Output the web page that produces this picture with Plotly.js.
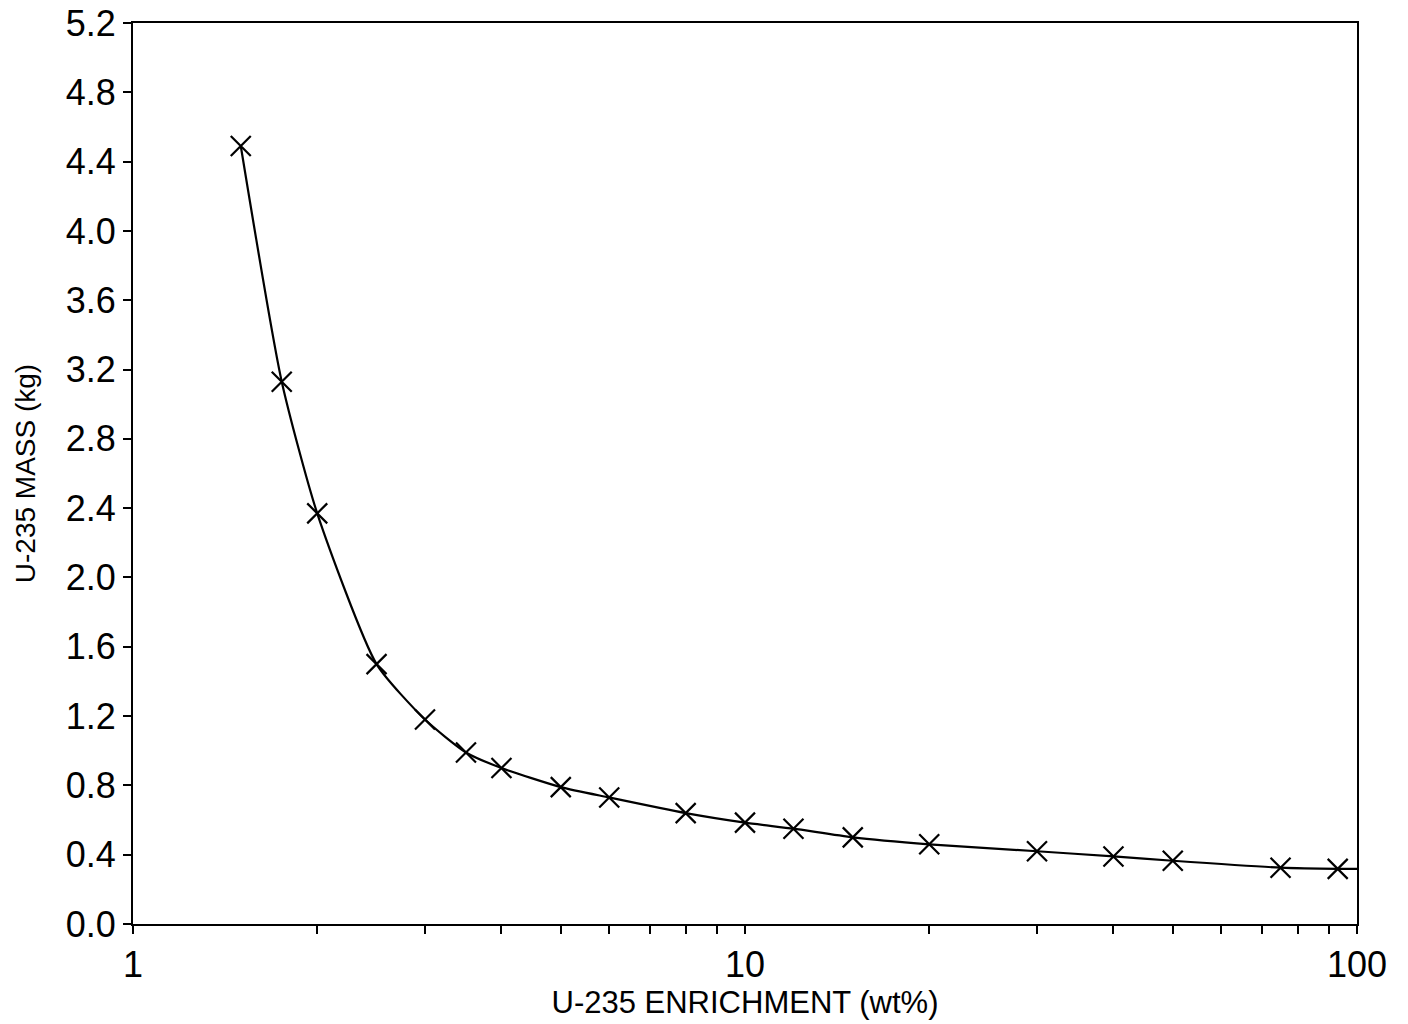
<!DOCTYPE html>
<html>
<head>
<meta charset="utf-8">
<script src="https://cdn.plot.ly/plotly-3.0.1.min.js"></script>
<style>
  html, body { margin: 0; padding: 0; background: #fff; }
  #chart { width: 1408px; height: 1024px; }
</style>
</head>
<body>
<div id="chart"></div>
<script>
// Data
const enrichment = [1.5, 1.75, 2.0, 2.5, 3.0, 3.5, 4.0, 5.0, 6.0, 8.0, 10, 12, 15, 20, 30, 40, 50, 75, 93];
const massKg     = [4.49, 3.13, 2.37, 1.50, 1.18, 0.99, 0.90, 0.79, 0.73, 0.64, 0.585, 0.55, 0.50, 0.46, 0.42, 0.39, 0.365, 0.325, 0.318];
// The fitted curve continues to the right edge of the frame
const curveEndX = [100];
const curveEndY = [0.318];

const yTickVals = [0, 0.4, 0.8, 1.2, 1.6, 2.0, 2.4, 2.8, 3.2, 3.6, 4.0, 4.4, 4.8, 5.2];
const xTickVals = [1, 10, 100];
const xTickText = ['1', '10', '100'];
const xMinorTicks = [2, 3, 4, 5, 6, 7, 8, 9, 20, 30, 40, 50, 60, 70, 80, 90];

const curveX = enrichment.concat(curveEndX);
const curveY = massKg.concat(curveEndY);

const font = 'Liberation Sans, Arial, Helvetica, sans-serif';

const traces = [
  {
    x: curveX, y: curveY,
    type: 'scatter', mode: 'lines',
    line: { color: '#000', width: 2.2, shape: 'spline', smoothing: 0.6 },
    hoverinfo: 'skip', showlegend: false
  },
  {
    x: enrichment, y: massKg,
    type: 'scatter', mode: 'markers',
    marker: { symbol: 'x-thin-open', size: 20, color: '#000', line: { color: '#000', width: 2.2 } },
    showlegend: false
  }
];

const layout = {
  width: 1408, height: 1024,
  paper_bgcolor: '#fff', plot_bgcolor: '#fff',
  margin: { l: 133, r: 51, t: 23, b: 100 },
  font: { family: font, color: '#000' },
  showlegend: false,
  xaxis: {
    type: 'log', range: [0, 2],
    tickmode: 'array', tickvals: xTickVals, ticktext: xTickText,
    ticks: 'outside', ticklen: 8, tickwidth: 2, tickcolor: '#000',
    minor: { tickmode: 'array', tickvals: xMinorTicks, ticks: 'outside', ticklen: 8, tickwidth: 2, tickcolor: '#000', showgrid: false },
    showgrid: false, zeroline: false,
    showline: true, linecolor: '#000', linewidth: 2, mirror: true,
    tickfont: { size: 36, family: font, color: '#000' },
    title: { text: 'U-235 ENRICHMENT (wt%)', font: { size: 31, family: font, color: '#000' }, standoff: 6 }
  },
  yaxis: {
    range: [0, 5.2],
    tickmode: 'array', tickvals: yTickVals, tickformat: '.1f',
    ticks: 'outside', ticklen: 8, tickwidth: 2, tickcolor: '#000',
    showgrid: false, zeroline: false,
    showline: true, linecolor: '#000', linewidth: 2, mirror: true,
    tickfont: { size: 36, family: font, color: '#000' },
    title: { text: 'U-235 MASS (kg)', font: { size: 28, family: font, color: '#000' }, standoff: 22 }
  }
};

Plotly.newPlot('chart', traces, layout, { staticPlot: true, displayModeBar: false });
</script>
</body>
</html>
